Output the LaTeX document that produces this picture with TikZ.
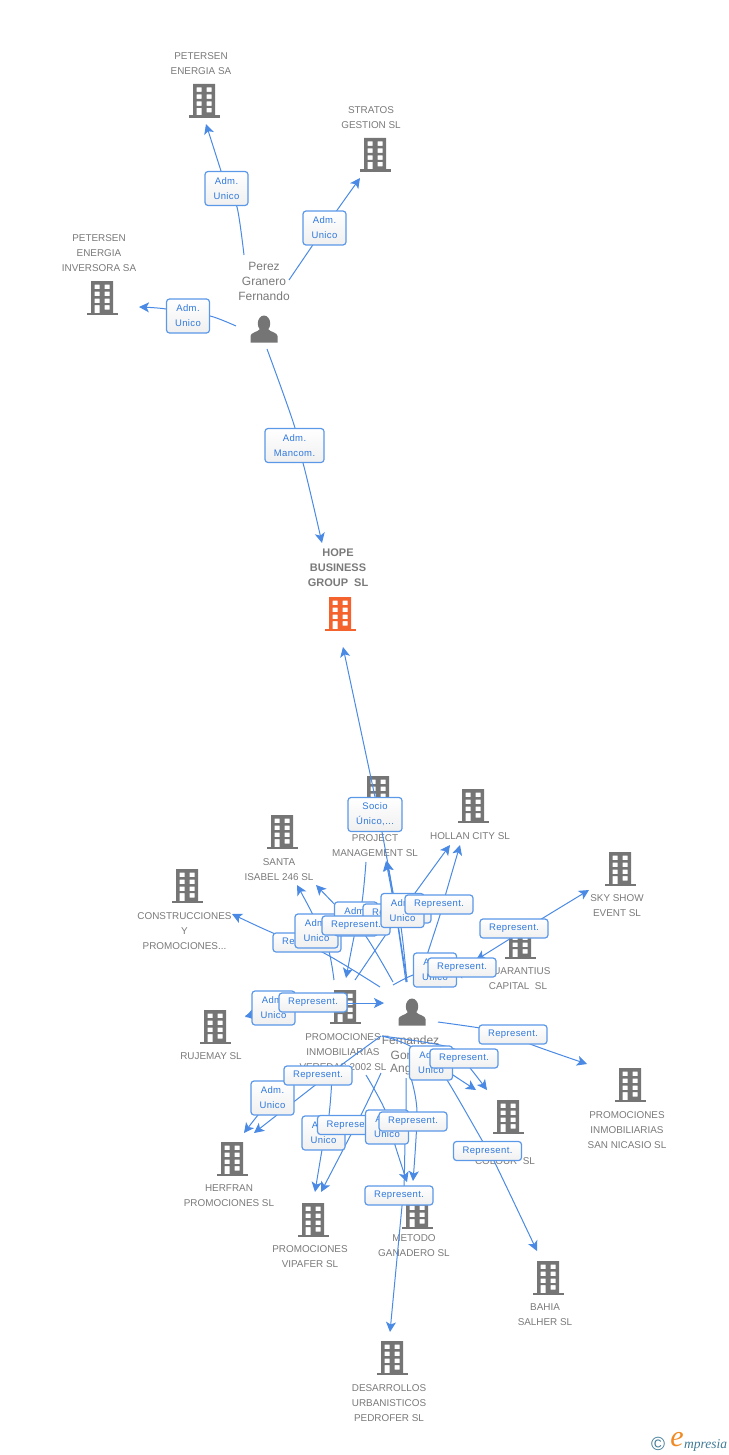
\documentclass[tikz,border=0pt]{standalone}
\usepackage{fontspec}
\setmainfont{Liberation Sans}
\newfontfamily\logofont{Liberation Serif}
\newfontfamily\tagfont[LetterSpace=4]{Liberation Sans}
\usetikzlibrary{arrows.meta}
\pgfdeclarelayer{under}
\pgfdeclarelayer{lines}
\pgfsetlayers{under,lines,main}
\definecolor{bluelink}{HTML}{4A8AE4}
\definecolor{boxedge}{HTML}{5C98E8}
\definecolor{boxtext}{HTML}{2F78DC}
\definecolor{graytext}{HTML}{7A7A7A}
\definecolor{icongray}{HTML}{757575}
\definecolor{hopeorange}{HTML}{F4622E}
\definecolor{logoteal}{HTML}{3F7A96}
\definecolor{logoorange}{HTML}{F08A24}
\tikzset{
  x=1pt,y=-1pt,
  link/.style={draw=bluelink,line width=1pt,-{Stealth[length=10pt,width=10pt,inset=2.5pt]}},
  lab/.style={text=graytext,align=center,inner sep=0pt,yshift=-0.4pt,font=\fontsize{9.9}{15}\selectfont},
  plab/.style={lab,yshift=0pt,font=\fontsize{12}{15}\selectfont},
  hlab/.style={lab,yshift=0pt,font=\fontsize{11}{15}\selectfont\bfseries},
  tagbox/.style={draw=boxedge,line width=1.2pt,rounded corners=3pt,top color=white,bottom color=black!6,
    text=boxtext,align=center,inner sep=0pt,font=\tagfont\fontsize{9.5}{15}\selectfont,
    execute at begin node={\vspace*{2pt}}},
  adm/.style={tagbox,minimum width=43pt,minimum height=34pt},
  rep/.style={tagbox,minimum width=68pt,minimum height=19pt},
  bldmark/.style={inner sep=0pt,minimum width=31pt,minimum height=34pt},
}
% building icon: name, centre x, centre y, colour
\newcommand\bld[4]{%
  \node[bldmark] (#1) at (#2,#3) {};
  \begin{scope}[shift={(#2,#3)}]
    \fill[#4,even odd rule] (-11,-17) rectangle (11,15)
      (-7.3,-13.5) rectangle (-2.3,-9) (2.7,-13.5) rectangle (7.7,-9)
      (-7.3,-6.5) rectangle (-2.3,-2) (2.7,-6.5) rectangle (7.7,-2)
      (-7.3,0.5) rectangle (-2.3,5) (2.7,0.5) rectangle (7.7,5)
      (-7.3,7) rectangle (-2.3,15) (2.7,7) rectangle (7.7,11.5);
    \fill[#4] (-15.5,14.5) rectangle (15.5,17);
  \end{scope}}
% person icon
\newcommand\psn[3]{%
  \node[inner sep=0pt,minimum size=27pt] (#1) at (#2,#3) {};
  \begin{scope}[shift={(#2,#3)}]
    \fill[icongray] (0,-5.5) ellipse (6.2 and 8);
    \fill[icongray] (-13.5,13.5) -- (-13.5,7) .. controls (-13.5,3.5) and (-6,3) .. (-4,0) -- (4,0)
      .. controls (6,3) and (13.5,3.5) .. (13.5,7) -- (13.5,13.5) -- cycle;
  \end{scope}}
% connector: id, start, middle points, end
\newcommand\lnk[4]{%
  \coordinate (#1s) at (#2);
  \coordinate (#1e) at (#4);
  \draw[link] plot[smooth,tension=0.55] coordinates {(#1s) #3 (#1e)};}
\begin{document}
\begin{tikzpicture}
\path[use as bounding box] (0,0) rectangle (728,1455);

% --- tag boxes, bottom to top
\node[adm] (b1) at (226.5,188.5) {Adm.\\Unico};
\node[adm] (b2) at (324.5,228) {Adm.\\Unico};
\node[adm] (b3) at (188,316) {Adm.\\Unico};
\node[tagbox,minimum width=59pt,minimum height=34pt] (b4) at (294.5,445.5) {Adm.\\Mancom.};
\node[tagbox,minimum width=54pt,minimum height=34pt] (b5) at (375,814.5) {Socio\\Único,...};
\node[rep] (r1) at (307,942.5) {Represent.};
\node[adm] (a1) at (316.5,931) {Adm.\\Unico};
\node[adm] (a2) at (356,919) {Adm.\\Unico};
\node[rep] (r2) at (397,913.5) {Represent.};
\node[rep] (r3) at (356,925.5) {Represent.};
\node[adm] (a3) at (402.5,910.5) {Adm.\\Unico};
\node[rep] (r4) at (439,904.5) {Represent.};
\node[rep] (r5) at (514,928.5) {Represent.};
\node[adm] (a4) at (435,970) {Adm.\\Unico};
\node[rep] (r6) at (462,967.5) {Represent.};
\node[adm] (a5) at (273.5,1008) {Adm.\\Unico};
\node[rep] (r7) at (313,1002.5) {Represent.};
\node[rep] (r8) at (513,1034.5) {Represent.};
\node[adm] (a6) at (431,1063) {Adm.\\Unico};
\node[rep] (r9) at (464,1058.5) {Represent.};
\node[adm] (a7) at (272.5,1098) {Adm.\\Unico};
\node[rep] (r10) at (318,1075.5) {Represent.};
\node[adm] (a8) at (323.5,1133) {Adm.\\Unico};
\node[rep] (r11) at (351.5,1125) {Represent.};
\node[adm] (a9) at (387,1127) {Adm.\\Unico};
\node[rep] (r12) at (413,1121.5) {Represent.};
\node[rep] (r13) at (487.5,1151) {Represent.};
\node[rep] (r14) at (399,1195.5) {Represent.};

% --- icons and their texts
\begin{pgfonlayer}{under}
\bld{petsa}{204}{101}{icongray}
\bld{strat}{375}{155}{icongray}
\bld{petin}{102}{298}{icongray}
\bld{hope}{340}{614}{hopeorange}
\bld{proj}{378}{793}{icongray}
\bld{holl}{473}{806}{icongray}
\bld{santa}{282}{832}{icongray}
\bld{cons}{187}{886}{icongray}
\bld{sky}{620}{869}{icongray}
\bld{guar}{520}{942}{icongray}
\bld{ruje}{215}{1027}{icongray}
\bld{vere}{345}{1007}{icongray}
\bld{colo}{508}{1117}{icongray}
\bld{sann}{630}{1085}{icongray}
\bld{herf}{232}{1159}{icongray}
\bld{vipa}{313}{1220}{icongray}
\bld{meto}{417}{1212}{icongray}
\bld{bahi}{548}{1278}{icongray}
\bld{desa}{392}{1358}{icongray}
\psn{perez}{264}{329}
\psn{fern}{412}{1012}

\node[lab] (tpetsa) at (201,63) {PETERSEN\\ENERGIA SA};
\node[lab] (tstrat) at (371,117) {STRATOS\\GESTION SL};
\node[lab] (tpetin) at (99,252.5) {PETERSEN\\ENERGIA\\INVERSORA SA};
\node[plab] (tperez) at (264,281) {Perez\\Granero\\Fernando};
\node[hlab] (thope) at (338,567.5) {HOPE\\BUSINESS\\GROUP~~SL};
\node[lab] (tproj) at (375,845) {PROJECT\\MANAGEMENT SL};
\node[lab] (tholl) at (470,835.5) {HOLLAN CITY SL};
\node[lab] (tsanta) at (279,869) {SANTA\\ISABEL 246 SL};
\node[lab] (tcons) at (184.5,930.5) {CONSTRUCCIONES\\Y\\PROMOCIONES...};
\node[lab] (tsky) at (617,905.5) {SKY SHOW\\EVENT SL};
\node[lab] (tguar) at (518,978.5) {GUARANTIUS\\CAPITAL~~SL};
\node[lab] (truje) at (211,1056) {RUJEMAY SL};
\node[lab] (tvere) at (343,1051.5) {PROMOCIONES\\INMOBILIARIAS\\VEREDAS 2002 SL};
\node[lab] (tsann) at (627,1129.5) {PROMOCIONES\\INMOBILIARIAS\\SAN NICASIO SL};
\node[lab] (tcolo) at (505,1161) {COLOUR~~SL};
\node[lab] (therf) at (229,1195.5) {HERFRAN\\PROMOCIONES SL};
\node[lab] (tvipa) at (310,1256.5) {PROMOCIONES\\VIPAFER SL};
\node[lab] (tmeto) at (414,1245.5) {METODO\\GANADERO SL};
\node[lab] (tbahi) at (545,1314.5) {BAHIA\\SALHER SL};
\node[lab] (tdesa) at (389,1402.5) {DESARROLLOS\\URBANISTICOS\\PEDROFER SL};
\node[plab] (tfern) at (410.5,1039.5) {Fernandez};
\node[plab,anchor=west] (tfern2) at (390.5,1054.5) {Gon};
\node[plab,anchor=west] (tfern3) at (390,1069.5) {Ang};

\node[font=\fontsize{19}{19}\selectfont,text=logoteal,inner sep=0pt] (lc) at (658,1444) {©};
\node[font=\logofont\itshape\fontsize{30}{30}\selectfont,text=logoorange,inner sep=0pt] (le) at (677,1440) {e};
\node[font=\logofont\itshape\fontsize{13.5}{14}\selectfont,text=logoteal,inner sep=0pt,anchor=west] (lm) at (684,1445) {mpresia};
\end{pgfonlayer}

% --- connectors
\begin{pgfonlayer}{lines}
\lnk{c1}{244,255}{(237,207) (b1.center) (221,171)}{206,124}
\lnk{c2}{289,280}{(b2.center)}{360,178}
\lnk{c3}{236,326}{(210,316) (b3.center) (166,309)}{139,307}
\lnk{c4}{267,349}{(295,428) (b4.center) (303,463)}{322,543}
\lnk{c5}{407,982}{(393,893) (382,832) (375,797)}{343,647}
\lnk{c6}{407,982}{(401,927) (393,893)}{387,861}
\lnk{c7}{406,982}{(398,927) (392,893)}{386,861}
\lnk{c8}{355,980}{(a3.center)}{450,845}
\lnk{c9}{417,985}{(428,952) (440,915) (446,893)}{460,845}
\lnk{c10}{334,980}{(328,948) (312,913)}{297,885}
\lnk{c11}{393,982}{(365,935) (342,912)}{316,885}
\lnk{c12}{380,987}{(322,952) (273,933)}{232,914}
\lnk{c13}{366,862}{(362,902) (354,937)}{346,978}
\lnk{c14}{393,985}{(413,975) (a4.center)}{470,962}
\lnk{c15}{440,987}{(455,978)}{r6.center}
\lnk{c16}{514,936}{(543,918)}{589,890}
\lnk{c30}{514,936}{(508,940)}{476,960}
\lnk{c17}{290,1009}{(a5.center)}{245,1017}
\lnk{c31}{300,1006}{(280,1012)}{245,1016}
\lnk{c18}{320,1003}{(347,1003)}{384,1003}
\lnk{c19}{438,1022}{(480,1028) (r8.center) (530,1044)}{587,1064}
\lnk{c20}{381,1036}{(340,1066) (300,1097)}{254,1133}
\lnk{c21}{285,1085}{(a7.center) (258,1115)}{244,1133}
\lnk{c22}{332,1078}{(329,1115) (322,1150)}{315,1192}
\lnk{c23}{381,1073}{(362,1113)}{321,1192}
\lnk{c24}{366,1075}{(385,1110) (395,1145)}{407,1182}
\lnk{c25}{411,1078}{(417,1112)}{413,1181}
\lnk{c26}{406,1078}{(406,1113) (405,1143) (404,1187) (402,1206)}{390,1332}
\lnk{c27}{432,1062}{(447,1080) (483,1142) (495,1163)}{537,1251}
\lnk{c28}{382,1036}{(410,1046) (453,1075)}{476,1090}
\lnk{c29}{382,1036}{(452,1048) (470,1068)}{487,1090}
\end{pgfonlayer}
\end{tikzpicture}
\end{document}
